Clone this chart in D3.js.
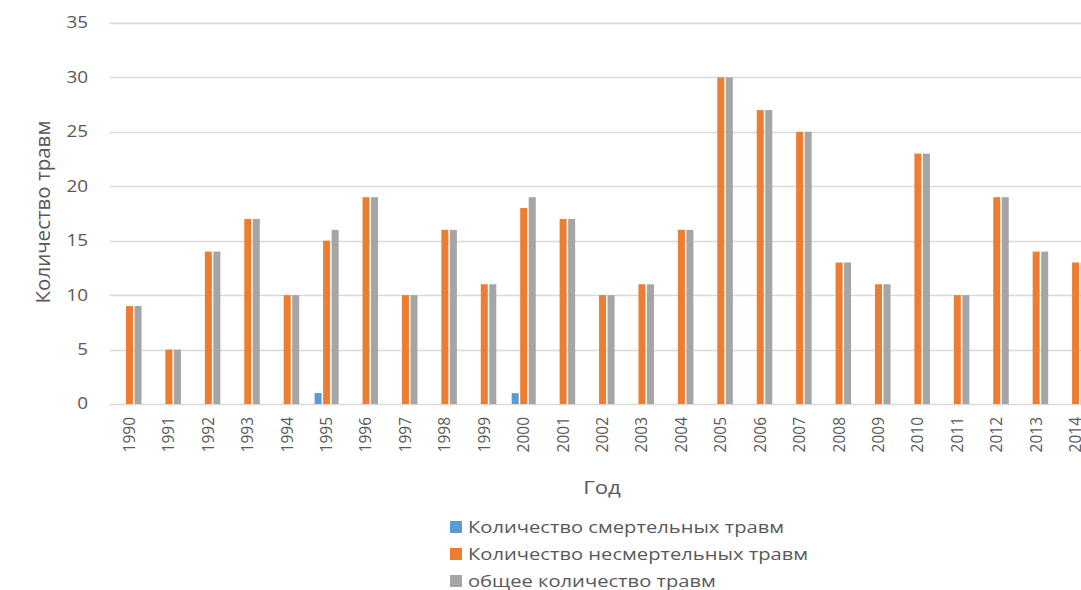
<!DOCTYPE html>
<html>
<head>
<meta charset="utf-8">
<script src="https://cdn.jsdelivr.net/npm/d3@7"></script>
<style>
  html, body { margin: 0; padding: 0; background: #fff; overflow: hidden; }
  svg { display: block; font-family: "Open Sans", "DejaVu Sans", sans-serif; }
</style>
</head>
<body>
<svg id="chart" width="1081" height="590"></svg>
<script>
// Годы наблюдений
const years = ["1990","1991","1992","1993","1994","1995","1996","1997","1998","1999",
               "2000","2001","2002","2003","2004","2005","2006","2007","2008","2009",
               "2010","2011","2012","2013","2014"];
// Смертельные травмы
const fatal    = [0,0,0,0,0,1,0,0,0,0, 1,0,0,0,0,0,0,0,0,0, 0,0,0,0,0];
// Несмертельные травмы
const nonFatal = [9,5,14,17,10,15,19,10,16,11, 18,17,10,11,16,30,27,25,13,11, 23,10,19,14,13];
// Общее количество травм
const total    = [9,5,14,17,10,16,19,10,16,11, 19,17,10,11,16,30,27,25,13,11, 23,10,19,14,13];

const seriesNames = ["Количество смертельных травм", "Количество несмертельных травм", "общее количество травм"];
const seriesColors = ["#5B9BD5", "#ED7D31", "#A5A5A5"];
const yTicks = [0, 5, 10, 15, 20, 25, 30, 35];

const svg = d3.select("#chart");
const plot = { left: 109.8, top: 23, bottom: 404, step: 39.42 };
const plotRight = plot.left + plot.step * years.length;
const textColor = "#595959";
const stretchX = 1.2; // горизонтальные подписи чуть шире обычного шрифта

const x = d3.scaleBand().domain(years).range([plot.left, plotRight])
  .paddingInner(0.39).paddingOuter(0.195);
const keys = [0, 1, 2];
const x1 = d3.scaleBand().domain(keys).range([0, x.bandwidth()]).paddingInner(0.176);
const y = d3.scaleLinear().domain([0, 35]).range([plot.bottom, plot.top]);

// Горизонтальная сетка
svg.append("g")
  .selectAll("line")
  .data(yTicks)
  .join("line")
  .attr("x1", plot.left)
  .attr("x2", 1081)
  .attr("y1", d => Math.round(y(d)) + 0.5)
  .attr("y2", d => Math.round(y(d)) + 0.5)
  .attr("stroke", "#d9d9d9")
  .attr("stroke-width", 1.3);

// Ось Y
const yAxis = svg.append("g")
  .attr("transform", "translate(88,0)")
  .call(d3.axisLeft(y).tickValues(yTicks).tickSize(0).tickPadding(0));
yAxis.select(".domain").remove();
yAxis.selectAll("text")
  .attr("fill", textColor)
  .attr("font-size", 15.5)
  .attr("font-family", "Open Sans, sans-serif")
  .attr("x", 0)
  .attr("transform", `scale(${stretchX + 0.02},1)`);

// Столбцы
const data = years.map((yr, i) => ({ year: yr, values: [fatal[i], nonFatal[i], total[i]] }));
svg.append("g")
  .selectAll("g")
  .data(data)
  .join("g")
  .attr("transform", d => `translate(${x(d.year)},0)`)
  .selectAll("rect")
  .data(d => d.values.map((v, k) => ({ k, v })))
  .join("rect")
  .attr("x", d => x1(d.k))
  .attr("width", x1.bandwidth())
  .attr("y", d => y(d.v))
  .attr("height", d => y(0) - y(d.v))
  .attr("fill", d => seriesColors[d.k]);

// Ось X (подписи годов повернуты)
const xAxis = svg.append("g")
  .attr("transform", `translate(0,${plot.bottom + 13})`)
  .call(d3.axisBottom(x).tickSize(0).tickPadding(0));
xAxis.select(".domain").remove();
xAxis.selectAll("text")
  .attr("fill", textColor)
  .attr("font-size", 15.5)
  .attr("font-family", "Open Sans, sans-serif")
  .attr("transform", "rotate(-90)")
  .attr("text-anchor", "end")
  .attr("dy", "0.35em")
  .attr("x", 0)
  .attr("y", 0);

// Подписи осей
svg.append("text")
  .attr("transform", "translate(50,212) rotate(-90)")
  .attr("text-anchor", "middle")
  .attr("fill", textColor)
  .attr("font-size", 20.5)
  .text("Количество травм");

svg.append("text")
  .attr("transform", `translate(602,494) scale(${stretchX},1)`)
  .attr("text-anchor", "middle")
  .attr("fill", textColor)
  .attr("font-size", 18.5)
  .text("Год");

// Легенда
const legend = svg.append("g").attr("transform", "translate(450,521)");
const item = legend.selectAll("g")
  .data(seriesNames)
  .join("g")
  .attr("transform", (d, i) => `translate(0,${i * 27})`);
item.append("rect")
  .attr("width", 12).attr("height", 12)
  .attr("fill", (d, i) => seriesColors[i]);
item.append("text")
  .attr("transform", `translate(18,6) scale(${stretchX},1)`)
  .attr("dy", "0.35em")
  .attr("fill", textColor)
  .attr("font-size", 16.8)
  .text(d => d);
</script>
</body>
</html>
